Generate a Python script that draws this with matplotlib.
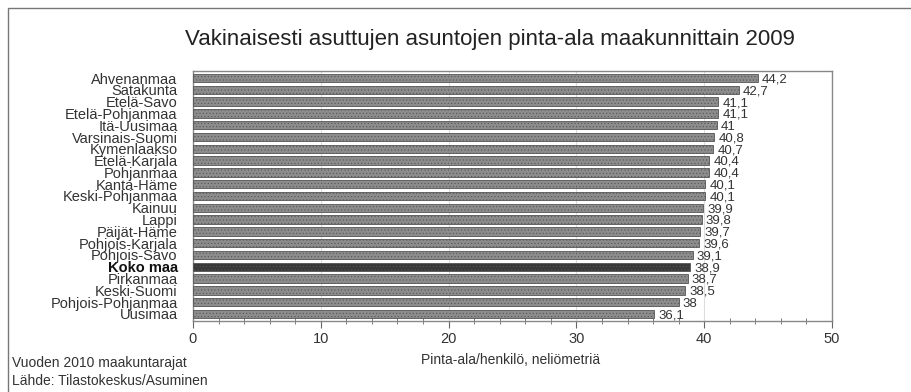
import matplotlib.pyplot as plt
from matplotlib.patches import Rectangle
from matplotlib.ticker import MultipleLocator

plt.rcParams['font.family'] = ['Liberation Sans', 'DejaVu Sans']
plt.rcParams['hatch.linewidth'] = 0.4

regions = ['Ahvenanmaa', 'Satakunta', 'Etelä-Savo', 'Etelä-Pohjanmaa', 'Itä-Uusimaa',
           'Varsinais-Suomi', 'Kymenlaakso', 'Etelä-Karjala', 'Pohjanmaa', 'Kanta-Häme',
           'Keski-Pohjanmaa', 'Kainuu', 'Lappi', 'Päijät-Häme', 'Pohjois-Karjala',
           'Pohjois-Savo', 'Koko maa', 'Pirkanmaa', 'Keski-Suomi', 'Pohjois-Pohjanmaa',
           'Uusimaa']
area = [44.2, 42.7, 41.1, 41.1, 41.0, 40.8, 40.7, 40.4, 40.4, 40.1,
        40.1, 39.9, 39.8, 39.7, 39.6, 39.1, 38.9, 38.7, 38.5, 38.0, 36.1]
total_name = 'Koko maa'

text_col = '#333333'
fig = plt.figure(figsize=(9.12, 3.92), dpi=100)
ax = fig.add_axes([0.2116, 0.181, 0.7007, 0.638])

# outer frame
fig.patches.append(Rectangle((8 / 912, -0.1), 1.2, 1.1 - 8 / 392, transform=fig.transFigure,
                             fill=False, edgecolor='#777777', linewidth=1.0))

ypos = list(range(len(regions)))[::-1]
colors = ['#3a3a3a' if r == total_name else '#8c8c8c' for r in regions]
ax.barh(ypos, area, height=0.72, color=colors, edgecolor='#555555', linewidth=0.6,
        hatch='.....', zorder=3)

for y, v in zip(ypos, area):
    lab = ('%g' % v).replace('.', ',')
    ax.annotate(lab, (v, y), xytext=(3, -1), textcoords='offset points', va='center',
                ha='left', fontsize=9.5, color=text_col)

ax.set_yticks(ypos)
ax.set_yticklabels(regions, fontsize=10.5, color=text_col)
for t in ax.get_yticklabels():
    if t.get_text() == total_name:
        t.set_fontweight('bold')
        t.set_color('#111111')
ax.tick_params(axis='y', length=0, pad=11)

ax.set_xlim(0, 50)
ax.set_ylim(-0.6, len(regions) - 0.4)
ax.xaxis.set_major_locator(MultipleLocator(10))
ax.xaxis.set_minor_locator(MultipleLocator(2))
ax.tick_params(axis='x', which='major', direction='out', length=5, color='#666666',
               labelsize=10.5, labelcolor=text_col, pad=3)
ax.tick_params(axis='x', which='minor', direction='inout', length=4, color='#666666')
ax.grid(axis='x', color='#dddddd', linewidth=0.8, zorder=0)
for s in ax.spines.values():
    s.set_color('#888888')
    s.set_linewidth(1.0)

fig.text(0.537, 0.9, 'Vakinaisesti asuttujen asuntojen pinta-ala maakunnittain 2009',
         ha='center', va='center', fontsize=16, color='#222222')
fig.text(0.56, 0.082, 'Pinta-ala/henkilö, neliömetriä', ha='center', va='center',
         fontsize=10, color=text_col)
fig.text(0.013, 0.075, 'Vuoden 2010 maakuntarajat', ha='left', va='center',
         fontsize=10, color=text_col)
fig.text(0.013, 0.028, 'Lähde: Tilastokeskus/Asuminen', ha='left', va='center',
         fontsize=10, color=text_col)

fig.savefig('out.png', dpi=100)
